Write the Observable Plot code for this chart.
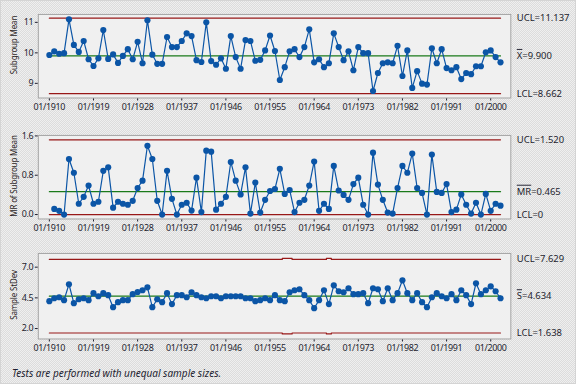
<!DOCTYPE html>
<html><head><meta charset="utf-8">
<script src="https://cdn.jsdelivr.net/npm/d3@7"></script>
<script src="https://cdn.jsdelivr.net/npm/@observablehq/plot@0.6"></script>
<style>
html,body{margin:0;padding:0;background:#fff;}
#chart{position:relative;width:576px;height:384px;overflow:hidden;box-sizing:border-box;border:1px solid #d4d4d4;
 background:repeating-conic-gradient(#dcdcdc 0 25%, #efefef 0 50%) 0 0/2px 2px;font-family:"Noto Sans",sans-serif;}
#chart svg{position:absolute;left:-1px;overflow:visible;}
#chart svg g[aria-label="x-axis tick label"] text, #chart svg g[aria-label="y-axis tick label"] text{letter-spacing:-0.35px;}
#caption{position:absolute;left:11px;top:365px;font-style:italic;font-size:10px;color:#1e1e30;white-space:nowrap;}
.ytitle{position:absolute;transform:translate(-50%,-50%) rotate(-90deg);white-space:nowrap;font-size:8px;letter-spacing:-0.15px;color:#2a1e1e;line-height:1;z-index:2;}
</style></head><body><div id="chart"><div id="caption">Tests are performed with unequal sample sizes.</div></div>
<script>
// ---- data ----
const firstYear = 1910, lastYear = 2002;
const years = d3.range(firstYear, lastYear + 1);
const xTickYears = [1910, 1919, 1928, 1937, 1946, 1955, 1964, 1973, 1982, 1991, 2000];

const subgroupMeans = [9.93,10.05,9.97,9.99,11.10,10.26,10.03,10.39,9.79,9.57,9.82,10.75,9.80,9.95,9.67,9.90,10.12,9.79,10.36,9.66,11.07,9.94,9.64,9.64,10.52,10.19,10.19,10.39,10.64,10.55,9.76,9.70,11.00,9.73,9.61,9.82,9.48,10.55,9.86,9.48,10.42,10.39,9.74,9.77,10.08,10.57,10.06,
 9.11,9.53,10.05,10.12,9.86,10.19,10.77,9.69,9.79,9.53,9.66,10.64,10.19,9.76,10.05,9.43,10.19,9.99,9.99,8.75,9.34,9.66,9.69,9.66,10.23,9.24,10.08,8.85,9.40,8.99,8.96,10.15,9.66,10.12,9.50,9.43,9.53,9.14,9.34,9.30,9.56,9.56,10.02,10.08,9.86,9.69];
// moving ranges, starting at 1911
const movingRanges = [0.115,0.075,0.0,1.13,0.85,0.22,0.36,0.59,0.22,0.26,0.89,0.96,0.14,0.26,0.22,0.20,0.28,0.54,0.69,1.40,1.13,0.28,0.0,0.89,0.32,0.0,0.20,0.24,0.08,0.75,0.05,1.30,1.28,0.10,0.22,0.36,1.07,0.69,0.41,0.96,0.02,0.65,0.04,0.30,0.48,0.52,
 0.93,0.42,0.50,0.05,0.24,0.30,0.59,1.08,0.075,0.22,0.115,0.99,0.49,0.40,0.30,0.62,0.75,0.20,0.0,1.26,0.61,0.30,0.04,0.02,0.54,0.99,0.85,1.24,0.54,0.44,0.0,1.22,0.46,0.44,0.62,0.05,0.10,0.41,0.20,0.02,0.24,0.0,0.42,0.075,0.22,0.18];
const sampleStDevs = [4.23,4.47,4.55,4.31,5.61,4.07,4.39,4.47,4.31,4.88,4.63,4.88,4.72,3.74,4.15,4.31,4.31,4.80,4.98,5.12,5.36,3.74,4.39,4.15,4.88,3.99,4.72,4.72,4.55,4.96,4.72,4.55,4.47,4.63,4.63,4.47,4.63,4.63,4.63,4.63,4.47,4.47,4.23,4.31,4.47,4.31,4.72,
 4.31,4.23,4.96,5.12,5.20,4.72,4.31,3.66,4.31,5.12,3.99,5.52,5.04,4.96,5.28,4.80,4.80,4.88,4.07,5.28,5.20,4.23,5.28,4.31,4.88,5.93,4.88,4.31,4.88,4.15,3.74,4.55,4.88,4.63,4.47,4.80,4.31,5.12,4.72,3.99,5.69,4.80,5.12,5.44,5.04,4.47];

const meanLimits = {ucl: 11.137, cl: 9.900, lcl: 8.662};
const mrLimits = {ucl: 1.520, cl: 0.465, lcl: 0};
const sLimits = {ucl: 7.629, cl: 4.634, lcl: 1.638};
const smallSampleYears = [1958, 1959, 1967];
const smallSampleUCL = 7.71, smallSampleLCL = 1.56;

// ---- style ----
const BLUE = "#0b55a6", GREEN = "#1a7a1a", RED = "#981818", INK = "#1e1e2e";
const FONT = "'Noto Sans', sans-serif";
const chart = document.getElementById("chart");

function panel(opt) {
  const pts = opt.values.map((v, i) => ({year: opt.years[i], value: v}));
  const lim = years.map(y => ({year: y, ucl: opt.uclAt(y), cl: opt.cl, lcl: opt.lclAt(y)}));
  const labels = [
    {y: opt.uclAt(lastYear), text: opt.uclText},
    {y: opt.cl, text: opt.clText},
    {y: opt.lclAt(lastYear), text: opt.lclText}
  ];
  const svg = Plot.plot({
    width: 577, height: opt.height,
    marginLeft: 38, marginRight: 64, marginTop: opt.mt, marginBottom: opt.mb,
    style: {background: "transparent", fontFamily: FONT, fontSize: "9px", color: INK, overflow: "visible"},
    x: {domain: [1907.75, 2004.1], ticks: xTickYears, tickFormat: d => "01/" + d, tickSize: 3, tickPadding: 3, label: null},
    y: {domain: opt.domain, ticks: opt.ticks, tickFormat: opt.fmt, tickSize: 3, tickPadding: 2, label: null},
    marks: [
      Plot.frame({fill: "#f0f0f0", stroke: "#a3a3a3"}),
      Plot.line(lim, {x: "year", y: "ucl", stroke: RED, strokeWidth: 1.2, curve: "step"}),
      Plot.line(lim, {x: "year", y: "lcl", stroke: RED, strokeWidth: 1.2, curve: "step"}),
      Plot.line(lim, {x: "year", y: "cl", stroke: GREEN, strokeWidth: 1.2}),
      Plot.line(pts, {x: "year", y: "value", stroke: BLUE, strokeWidth: 1.2}),
      Plot.dot(pts, {x: "year", y: "value", fill: BLUE, r: 3.1}),
      Plot.text(labels, {y: "y", text: "text", frameAnchor: "right", dx: 6, textAnchor: "start", fontSize: 9.5, fill: INK})
    ]
  });
  svg.style.top = opt.top + "px";
  d3.select(svg).selectAll("text").each(function() {
    if (this.textContent === opt.clText) {
      // overline on the center-line symbol
      const sel = d3.select(this);
      sel.text(null);
      sel.append("tspan").attr("text-decoration", "overline").style("text-decoration", "overline").text(opt.barPart);
      sel.append("tspan").text(opt.clText.slice(opt.barPart.length));
    }
  });
  chart.appendChild(svg);
  const t = document.createElement("div");
  t.className = "ytitle";
  t.textContent = opt.title;
  t.style.left = "12.5px";
  t.style.top = opt.titleY + "px";
  chart.appendChild(t);
}

const sUCL = y => smallSampleYears.includes(y) ? smallSampleUCL : sLimits.ucl;
const sLCL = y => smallSampleYears.includes(y) ? smallSampleLCL : sLimits.lcl;

panel({values: subgroupMeans, years: years, cl: meanLimits.cl,
  uclAt: () => meanLimits.ucl, lclAt: () => meanLimits.lcl,
  uclText: "UCL=11.137", clText: "X=9.900", barPart: "X", lclText: "LCL=8.662",
  domain: [8.52, 11.26], ticks: [9, 10, 11], fmt: d3.format("d"),
  title: "Subgroup Mean", titleY: 44, top: 0, height: 118, mt: 13, mb: 21});

panel({values: movingRanges, years: years.slice(1), cl: mrLimits.cl,
  uclAt: () => mrLimits.ucl, lclAt: () => mrLimits.lcl,
  uclText: "UCL=1.520", clText: "MR=0.465", barPart: "MR", lclText: "LCL=0",
  domain: [-0.09, 1.61], ticks: [0, 0.8, 1.6], fmt: d3.format(".1f"),
  title: "MR of Subgroup Mean", titleY: 175, top: 120, height: 118, mt: 14, mb: 20});

panel({values: sampleStDevs, years: years, cl: sLimits.cl,
  uclAt: sUCL, lclAt: sLCL,
  uclText: "UCL=7.629", clText: "S=4.634", barPart: "S", lclText: "LCL=1.638",
  domain: [1.15, 8.12], ticks: [2, 4.5, 7], fmt: d3.format(".1f"),
  title: "Sample StDev", titleY: 293.5, top: 239, height: 120, mt: 13, mb: 21});
</script></body></html>
